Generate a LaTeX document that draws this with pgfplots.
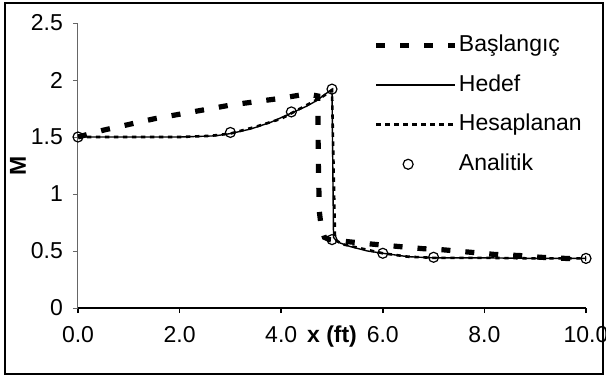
\documentclass[border=0pt]{standalone}
\usepackage{fontspec}
\setmainfont{Liberation Sans}
\usepackage{pgfplots}
\pgfplotsset{compat=1.18}
\pgfplotsset{
  longline/.style={legend image code/.code={\draw[##1] (0pt,0pt) -- (39.5pt,0pt);}},
  markleg/.style={legend image code/.code={\draw[##1] plot coordinates {(16pt,0pt)};}},
}
\begin{document}
\begin{tikzpicture}[font=\fontsize{11.5}{13.5}\selectfont]
\useasboundingbox (-39pt,-34pt) rectangle (264pt,154pt);
\begin{axis}[
  scale only axis, width=254pt, height=142.5pt,
  xmin=0, xmax=10, ymin=0, ymax=2.5,
  axis x line*=bottom, axis y line*=left,
  x axis line style={black, line width=1pt},
  y axis line style={black!60, line width=0.5pt},
  xtick={0,2,4,6,8,10}, ytick={0,0.5,1,1.5,2,2.5},
  tick align=outside, major tick length=2.5pt,
  xtick style={black, line width=0.8pt},
  ytick style={black!60, line width=0.5pt},
  /pgf/number format/assume math mode=true,
  xticklabel style={/pgf/number format/fixed, /pgf/number format/precision=1, /pgf/number format/fixed zerofill, yshift=-3pt},
  yticklabel style={xshift=-1.5pt},
  xlabel={\textbf{x (ft)}}, ylabel={\textbf{M}},
  xlabel style={at={(axis description cs:0.5,-0.1)}, anchor=center},
  ylabel style={at={(axis description cs:-0.118,0.5)}, anchor=center},
  legend style={at={(axis cs:5.81,2.41)}, anchor=north west, draw=none, fill=none,
    inner sep=0pt, row sep=8pt, column sep=0pt,
    nodes={inner sep=0.6pt, text height=8.3pt, text depth=2.3pt}},
  legend cell align=left,
  clip=false,
]
\addplot[black, line width=2.6pt, dash pattern=on 4.5pt off 7.5pt, longline] coordinates {
(0,1.5) (0.5,1.56) (1,1.61) (1.5,1.66) (2,1.70) (2.5,1.74) (3,1.78) (3.5,1.81) (4,1.84) (4.4,1.87) (4.6,1.87) (4.72,1.86)
(4.73,1.3) (4.75,0.85) (4.79,0.7) (4.85,0.62) (4.95,0.6) (5.35,0.58) (5.8,0.56) (6.3,0.54) (6.8,0.52) (7.2,0.51) (7.7,0.49) (8.2,0.47) (8.7,0.46) (9.1,0.445) (9.6,0.435) (10,0.435)
};
\addlegendentry{Başlangıç}
\addplot[black, line width=0.7pt, longline] coordinates {
(0,1.5) (1,1.5) (2,1.5) (2.7,1.51) (3,1.53) (3.4,1.57) (3.8,1.63) (4.2,1.71) (4.5,1.77) (4.7,1.82) (4.85,1.87) (5.0,1.92)
(5.03,0.62) (5.1,0.58) (5.35,0.54) (5.7,0.5) (6,0.48) (6.5,0.45) (7,0.44) (8,0.44) (9,0.435) (10,0.435)
};
\addlegendentry{Hedef}
\addplot[black, line width=1.3pt, dash pattern=on 2.2pt off 2.3pt, longline] coordinates {
(0,1.5) (1,1.5) (2,1.5) (2.6,1.51) (3,1.53) (3.5,1.59) (4,1.66) (4.5,1.78) (4.8,1.85) (5.0,1.91)
(5.06,0.6) (5.2,0.56) (5.5,0.53) (6,0.48) (6.5,0.45) (7,0.44) (8,0.44) (9,0.435) (10,0.435)
};
\addlegendentry{Hesaplanan}
\addplot[black, only marks, mark=o, mark size=2.5pt, mark options={line width=0.6pt, fill=none}, markleg] coordinates {
(0,1.5) (3,1.54) (4.2,1.72) (5,1.92) (5,0.6) (6,0.48) (7,0.445) (10,0.435)
};
\addlegendentry{Analitik}
\end{axis}
\draw[black, line width=0.6pt] (-36.5pt,-33pt) rectangle (262.5pt,152.5pt);
\end{tikzpicture}
\end{document}
